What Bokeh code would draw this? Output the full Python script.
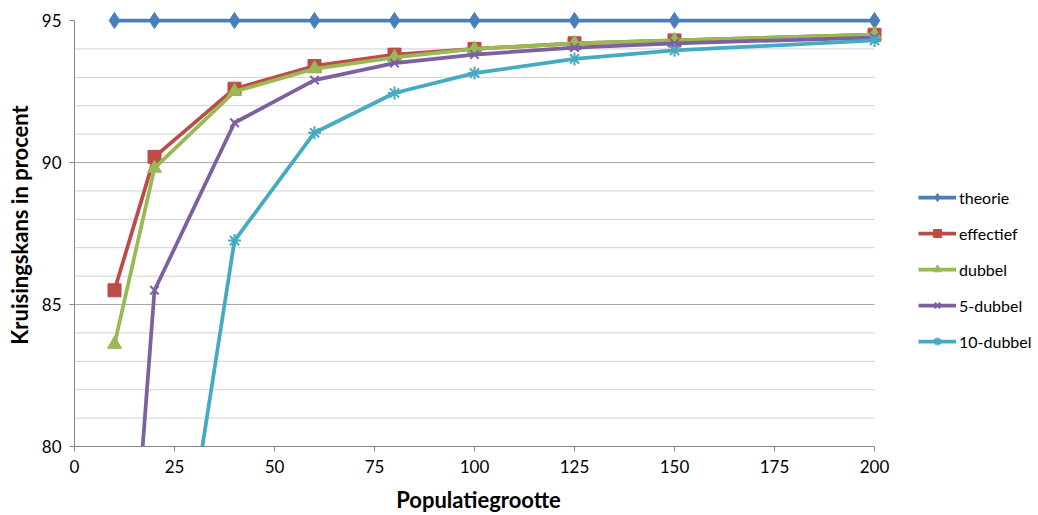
from bokeh.plotting import figure
from bokeh.models import Range1d, FixedTicker, Legend, LegendItem
from bokeh.embed import file_html
from bokeh.resources import INLINE
import numpy as np

# Population sizes and crossing probability (%) per method
populatie = [10, 20, 40, 60, 80, 100, 125, 150, 200]
theorie = [95, 95, 95, 95, 95, 95, 95, 95, 95]
effectief = [85.5, 90.2, 92.6, 93.4, 93.8, 94.0, 94.2, 94.3, 94.5]
dubbel = [83.6, 89.8, 92.5, 93.3, 93.7, 94.0, 94.2, 94.3, 94.5]
dubbel_5 = [66.9, 85.5, 91.4, 92.9, 93.5, 93.8, 94.05, 94.2, 94.4]
dubbel_10 = [np.nan, 69.2, 87.25, 91.05, 92.45, 93.15, 93.65, 93.95, 94.3]

x_ticks = [0, 25, 50, 75, 100, 125, 150, 175, 200]
y_ticks = [80, 85, 90, 95]
y_minor = list(range(80, 96))

FONT = "Lato"
AXIS_GREY = "#868686"

p = figure(
    frame_width=808, frame_height=443,
    x_range=Range1d(0, 202), y_range=Range1d(80, 95.6),
    output_backend="svg", toolbar_location=None,
    min_border_left=74, min_border_top=3, min_border_bottom=69, min_border_right=0,
)
p.outline_line_color = None
p.background_fill_color = "white"
p.border_fill_color = "white"

# horizontal grid lines, drawn only across the data extent
p.xgrid.grid_line_color = None
p.ygrid.grid_line_color = None
minor_only = [v for v in y_minor if v not in y_ticks]
p.segment(x0=[x_ticks[0]] * len(minor_only), x1=[x_ticks[-1]] * len(minor_only),
          y0=minor_only, y1=minor_only, line_color="#d0d0d0", line_width=1)
major_grid = [v for v in y_ticks if v not in (y_ticks[0], y_ticks[-1])]
p.segment(x0=[x_ticks[0]] * len(major_grid), x1=[x_ticks[-1]] * len(major_grid),
          y0=major_grid, y1=major_grid, line_color="#a6a6a6", line_width=1)

# axes
p.xaxis.ticker = FixedTicker(ticks=x_ticks)
p.yaxis.ticker = FixedTicker(ticks=y_ticks, minor_ticks=y_minor)
p.xaxis.bounds = (x_ticks[0], x_ticks[-1])
p.yaxis.bounds = (y_ticks[0], y_ticks[-1])
for ax in (p.xaxis, p.yaxis):
    ax.axis_line_color = AXIS_GREY
    ax.axis_line_width = 1
    ax.major_tick_line_color = AXIS_GREY
    ax.major_tick_in = 0
    ax.major_tick_out = 5
    ax.minor_tick_line_color = None
    ax.major_label_text_font = FONT
    ax.major_label_text_font_size = "17px"
    ax.major_label_text_color = "#000000"
    ax.axis_label_text_font = FONT
    ax.axis_label_text_font_size = "22px"
    ax.axis_label_text_font_style = "bold"
    ax.axis_label_text_color = "#000000"
p.xaxis.major_label_standoff = 8
p.yaxis.major_label_standoff = 8
p.xaxis.axis_label = "Populatiegrootte"
p.yaxis.axis_label = "Kruisingskans in procent"
p.xaxis.axis_label_standoff = 10
p.yaxis.axis_label_standoff = 6

series = [
    ("theorie", theorie, "#4A7EBB", "diamond", 16),
    ("effectief", effectief, "#BE4B48", "square", 13),
    ("dubbel", dubbel, "#98B954", "triangle", 14),
    ("5-dubbel", dubbel_5, "#7D60A0", "x", 12),
    ("10-dubbel", dubbel_10, "#46AAC5", "asterisk", 13),
]

items = []
for name, ys, color, marker, size in series:
    ln = p.line(populatie, ys, line_color=color, line_width=3.75)
    sc = p.scatter(populatie, ys, marker=marker, size=size,
                   fill_color=color, line_color=color,
                   line_width=2 if marker in ("x", "asterisk") else 1)
    items.append(LegendItem(label=name, renderers=[ln, sc]))

# legend in the right-hand panel
legend = Legend(items=items, location=(36, 95))
legend.label_text_font = FONT
legend.label_text_font_size = "16px"
legend.label_text_color = "#000000"
legend.glyph_width = 38
legend.glyph_height = 20
legend.spacing = 16
legend.label_standoff = 3
legend.padding = 0
legend.margin = 0
legend.border_line_color = None
legend.background_fill_alpha = 0
p.add_layout(legend, "right")

open("out.html", "w").write(file_html(p, INLINE))
